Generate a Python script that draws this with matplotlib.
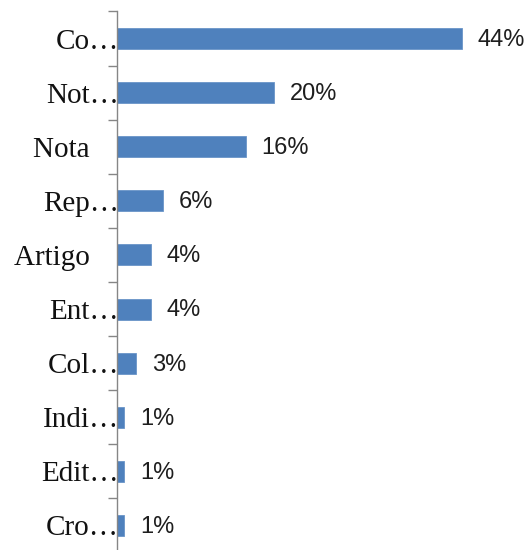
import matplotlib
matplotlib.use("Agg")
import matplotlib.pyplot as plt
import numpy as np

categories = ["Co…", "Not…", "Nota", "Rep…", "Artigo", "Ent…", "Col…", "Indi…", "Edit…", "Cro…"]
values = [44.0, 20.0, 16.4, 5.9, 4.3, 4.3, 2.4, 0.9, 0.9, 0.9]
value_labels = ["44%", "20%", "16%", "6%", "4%", "4%", "3%", "1%", "1%", "1%"]

W, H = 532, 550
fig = plt.figure(figsize=(W / 100, H / 100), dpi=100)
ax = fig.add_axes([117 / W, -2.5 / H, 392 / W, 541 / H])

n = len(categories)
y = np.arange(n)
ax.barh(y, values, height=0.39, color="#4F81BD", edgecolor="#6A95C8", linewidth=0.6, zorder=2)
ax.set_xlim(0, 50)
ax.set_ylim(n - 0.5, -0.5)

for yi, v, lab in zip(y, values, value_labels):
    ax.annotate(lab, (v, yi), xytext=(11.5, -1.0), textcoords="offset points",
                ha="left", va="center", fontsize=17, family="Liberation Sans", color="#1e1e1e")

for s in ["top", "right", "bottom"]:
    ax.spines[s].set_visible(False)
ax.spines["left"].set_color("#868686")
ax.spines["left"].set_linewidth(1.0)
ax.spines["left"].set_zorder(3)
ax.set_xticks([])

# non-truncated names sit a little further left, as in the reference
shown = [c if c.endswith("…") else c + "\u00a0\u00a0\u00a0\u00a0" for c in categories]
ax.set_yticks(y)
ax.set_yticklabels(shown, family="Liberation Serif", fontsize=21, color="#111111")
ax.tick_params(axis="y", which="major", length=0, pad=-1.5)
for t in ax.get_yticklabels():
    t.set_verticalalignment("center_baseline")
ax.set_yticks(np.arange(n + 1) - 0.5, minor=True)
ax.tick_params(axis="y", which="minor", length=6.5, width=1.0, color="#868686")

fig.savefig("out.png", dpi=100)
